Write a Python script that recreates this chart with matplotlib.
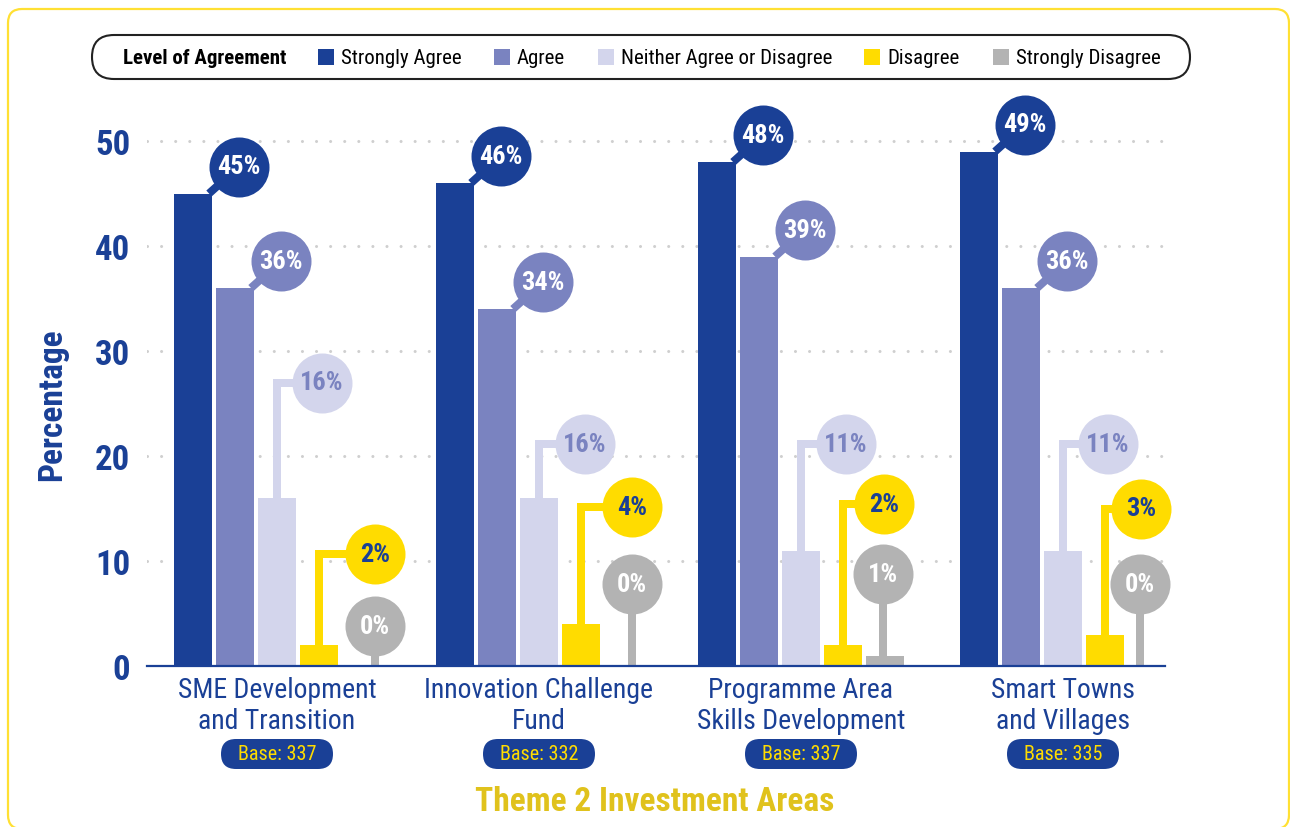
import os
import glob
import matplotlib
matplotlib.use("Agg")
import matplotlib.pyplot as plt
from matplotlib import font_manager
from matplotlib.font_manager import FontProperties
from matplotlib.patches import FancyBboxPatch, Rectangle
from matplotlib.transforms import IdentityTransform
import numpy as np

# ---------------- data ----------------
categories = ["SME Development\nand Transition", "Innovation Challenge\nFund",
              "Programme Area\nSkills Development", "Smart Towns\nand Villages"]
bases = [337, 332, 337, 335]
series_names = ["Strongly Agree", "Agree", "Neither Agree or Disagree",
                "Disagree", "Strongly Disagree"]
strongly_agree = [45, 46, 48, 49]
agree = [36, 34, 39, 36]
neither = [16, 16, 11, 11]
disagree = [2, 4, 2, 3]
strongly_disagree = [0, 0, 1, 0]
y_ticks = [0, 10, 20, 30, 40, 50]
legend_title = "Level of Agreement"
x_title = "Theme 2 Investment Areas"
y_title = "Percentage"

# ---------------- fonts ----------------
all_files = [f.fname for f in font_manager.fontManager.ttflist]
for pat in ["/usr/share/fonts/**/*.ttf", "/usr/share/fonts/**/*.otf",
            "/usr/local/share/fonts/**/*.ttf", os.path.expanduser("~/.fonts/**/*.ttf")]:
    all_files += glob.glob(pat, recursive=True)


def find_file(cands):
    for c in cands:
        for f in all_files:
            if os.path.basename(f).lower() == c:
                return f
    return None


REG_FILE = find_file(["liberationsansnarrow-regular.ttf", "robotocondensed-regular.ttf",
                      "dejavusanscondensed.ttf", "opensans-condlight.ttf"])
BOLD_FILE = find_file(["liberationsansnarrow-bold.ttf", "robotocondensed-bold.ttf",
                       "dejavusanscondensed-bold.ttf", "opensans-condbold.ttf"])
HEAVY_FILE = find_file(["robotocondensed-black.ttf", "robotocondensed-extrabold.ttf",
                        "robotocondensed-bold.ttf", "liberationsansnarrow-bold.ttf",
                        "dejavusanscondensed-bold.ttf"])
SCALE = 1.0 if REG_FILE else 0.8


def fp(weight="regular", size=12):
    f = {"regular": REG_FILE, "bold": BOLD_FILE, "heavy": HEAVY_FILE}[weight]
    if f:
        return FontProperties(fname=f, size=size * SCALE)
    return FontProperties(family="Liberation Sans",
                          weight="normal" if weight == "regular" else "bold",
                          size=size * SCALE)


# ---------------- style / layout ----------------
W, H = 1290, 828
DARK = "#1a4096"
colors = ["#1a4096", "#7a83c0", "#d3d5ec", "#ffdc00", "#b3b3b3"]
label_colors = ["white", "white", "#7a83c0", "#1a4096", "white"]
styles = ["diag", "diag", "elbow", "elbow", "stem"]
callout_y = {2: [27.0, 21.1, 21.1, 21.1], 3: [10.7, 15.1, 15.4, 15.0], 4: [3.8, 7.8, 8.8, 7.8]}
callout_dx = {2: [45, 46, 45, 45], 3: [56, 51, 41, 36], 4: [14, 9, -2, -7]}

GROUP_PX = 262.0
STEP_PX = 42.0
BAR_PX = 38.0
AX_L, AX_R, AX_B = 147, 1165, 667
Y_MAX = 52
PX_PER_UNIT = 10.5

fig = plt.figure(figsize=(W / 100, H / 100), dpi=100)
fig.patch.set_facecolor("white")
ax_h = Y_MAX * PX_PER_UNIT
ax = fig.add_axes([AX_L / W, 1 - AX_B / H, (AX_R - AX_L) / W, ax_h / H])
first_centre = 277
ax.set_xlim(-(first_centre - AX_L) / GROUP_PX, (AX_R - first_centre) / GROUP_PX)
ax.set_ylim(0, Y_MAX)

series = [strongly_agree, agree, neither, disagree, strongly_disagree]
x = np.arange(len(categories))
step = STEP_PX / GROUP_PX
width = BAR_PX / GROUP_PX

for j, vals in enumerate(series):
    ax.bar(x + (j - 2) * step, vals, width=width, color=colors[j], zorder=4,
           linewidth=0)

inv = ax.transData.inverted()


def shift(xd, yd, dx, dy):
    d = ax.transData.transform((xd, yd))
    return inv.transform((d[0] + dx, d[1] + dy))


LW = 8 * 0.72
for j, vals in enumerate(series):
    for i, v in enumerate(vals):
        bx = x[i] + (j - 2) * step
        if styles[j] == "diag":
            sx, sy = shift(bx + width / 2, v, -3, 0)
            cx, cy = shift(bx + width / 2, v, 27, 27)
            ax.plot([sx, cx], [sy, cy], color=colors[j], lw=LW,
                    solid_capstyle="butt", zorder=3, clip_on=False)
        elif styles[j] == "elbow":
            cy = callout_y[j][i]
            cx, _ = shift(bx, cy, callout_dx[j][i], 0)
            ax.plot([bx, bx, cx], [v, cy, cy], color=colors[j], lw=LW,
                    solid_capstyle="butt", solid_joinstyle="miter", zorder=3, clip_on=False)
        else:
            cy = callout_y[j][i]
            cx, _ = shift(bx, cy, callout_dx[j][i], 0)
            ax.plot([cx, cx], [v, cy], color=colors[j], lw=LW,
                    solid_capstyle="butt", zorder=3, clip_on=False)
        ax.plot([cx], [cy], "o", ms=60 * 0.72, color=colors[j], mec="none", zorder=5,
                clip_on=False)
        ax.text(cx, cy, f"{v}%", ha="center", va="center", fontproperties=fp("heavy", 19),
                color=label_colors[j], zorder=6)

# axes styling
ax.set_yticks(y_ticks)
ax.set_yticklabels([str(t) for t in y_ticks], color=DARK)
for lbl in ax.get_yticklabels():
    lbl.set_fontproperties(fp("heavy", 25))
ax.tick_params(axis="y", length=0, pad=12)
ax.set_xticks([])
for s in ["left", "top", "right"]:
    ax.spines[s].set_visible(False)
ax.spines["bottom"].set_color(DARK)
ax.spines["bottom"].set_linewidth(1.6)
ax.spines["bottom"].set_zorder(7)
ax.set_axisbelow(True)
ax.yaxis.grid(True, color="#cfcfcf", lw=2.2, linestyle=(0, (0.01, 4.6)),
              dash_capstyle="round")
ax.set_facecolor("none")

# y title
fig.text(52 / W, 1 - 405 / H, y_title, rotation=90, ha="center", va="center",
         fontproperties=fp("heavy", 24), color=DARK)

# category labels and base pills
for i, cat in enumerate(categories):
    cxp = first_centre + GROUP_PX * i
    fig.text(cxp / W, 1 - 706 / H, cat, ha="center", va="center",
             multialignment="center", fontproperties=fp("regular", 20), color=DARK,
             linespacing=1.15)
    pill = FancyBboxPatch((cxp - 56, H - 770), 112, 30,
                          boxstyle="round,pad=0,rounding_size=15",
                          transform=IdentityTransform(), fc=DARK, ec="none")
    fig.add_artist(pill)
    fig.text(cxp / W, 1 - 755 / H, f"Base: {bases[i]}", ha="center", va="center",
             fontproperties=fp("regular", 14.5), color="#ffdc00")

# x title
fig.text(655 / W, 1 - 802 / H, x_title, ha="center", va="center",
         fontproperties=fp("heavy", 24), color="#e0c21c")

# legend
leg = FancyBboxPatch((92, H - 80), 1098, 44, boxstyle="round,pad=0,rounding_size=22",
                     transform=IdentityTransform(), fc="white", ec="#222222", lw=1.5)
fig.add_artist(leg)
fig.text(123 / W, 1 - 58 / H, legend_title, ha="left", va="center",
         fontproperties=fp("bold", 15), color="black")
sq_x = [318, 494, 598, 864, 993]
for j, name in enumerate(series_names):
    sq = Rectangle((sq_x[j], H - 66), 16, 16, transform=IdentityTransform(),
                   fc=colors[j], ec="none")
    fig.add_artist(sq)
    fig.text((sq_x[j] + 23) / W, 1 - 58 / H, name, ha="left", va="center",
             fontproperties=fp("regular", 15), color="black")

# outer yellow frame
frame = FancyBboxPatch((8, -2), 1281, H - 10 + 2, boxstyle="round,pad=0,rounding_size=14",
                       transform=IdentityTransform(), fc="none", ec="#ffe033", lw=1.6)
fig.add_artist(frame)

fig.savefig("out.png", dpi=100)
